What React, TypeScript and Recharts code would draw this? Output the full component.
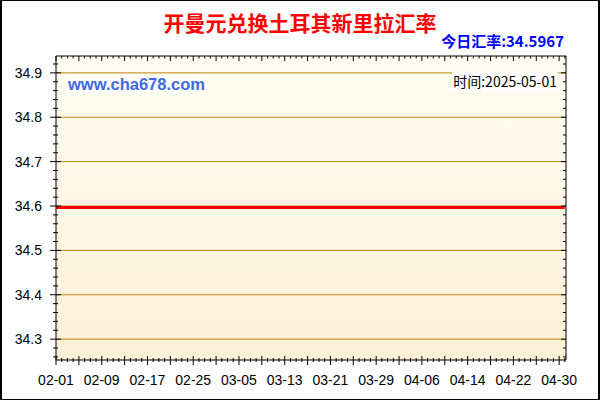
import { LineChart, Line, XAxis, YAxis, CartesianGrid, ReferenceLine } from 'recharts';

const title = '开曼元兑换土耳其新里拉汇率';
const todayLabel = '今日汇率:34.5967';
const timeLabel = '时间:2025-05-01';
const siteLabel = 'www.cha678.com';

// month-day of each sample, 2025
const dates = ['02-01', '02-09', '02-17', '02-25', '03-05', '03-13', '03-21', '03-29', '04-06', '04-14', '04-22', '04-30', '05-01'];
const rates = [34.5967, 34.5967, 34.5967, 34.5967, 34.5967, 34.5967, 34.5967, 34.5967, 34.5967, 34.5967, 34.5967, 34.5967, 34.5967];

const xTickLabels = ['02-01', '02-09', '02-17', '02-25', '03-05', '03-13', '03-21', '03-29', '04-06', '04-14', '04-22', '04-30'];
const yTickLabels = ['34.3', '34.4', '34.5', '34.6', '34.7', '34.8', '34.9'];

const dayIndex = (md: string) => {
  const [m, d] = md.split('-').map(Number);
  return Math.round((Date.UTC(2025, m - 1, d) - Date.UTC(2025, 1, 1)) / 86400000);
};

const data = dates.map((d, i) => ({ day: dayIndex(d), rate: rates[i] }));

const X_DOMAIN: [number, number] = [0, 89.2];
const Y_DOMAIN: [number, number] = [34.253, 34.938];

const dayTicks: number[] = [];
for (let i = 0; i <= 89; i++) dayTicks.push(i);
const rateTicks: number[] = [];
for (let k = 0; k <= 33; k++) rateTicks.push(Math.round((34.26 + k * 0.02) * 100) / 100);
const majorRates = yTickLabels.map(Number);

const AXIS_FONT = '"Liberation Sans", Arial, sans-serif';
const CJK_FONT = '"Noto Sans CJK SC", "Liberation Sans", sans-serif';

const BottomTick = (props: any) => {
  const { x, y, payload } = props;
  const v = payload.value;
  const major = v % 4 === 0;
  const labeled = v % 8 === 0;
  return (
    <g>
      <line x1={x} x2={x} y1={major ? y - 4 : y - 2} y2={major ? y + 5 : y + 2} stroke="#000" />
      {labeled && (
        <text x={x} y={y + 25} textAnchor="middle" fontSize={14} fontFamily={AXIS_FONT} fill="#000">
          {xTickLabels[v / 8]}
        </text>
      )}
    </g>
  );
};

const TopTick = (props: any) => {
  const { x, y, payload } = props;
  const major = payload.value % 4 === 0;
  return <line x1={x} x2={x} y1={y} y2={y + (major ? 5 : 2.5)} stroke="#000" />;
};

const LeftTick = (props: any) => {
  const { x, y, payload } = props;
  const v = payload.value;
  const idx = majorRates.indexOf(v);
  const major = idx >= 0;
  return (
    <g>
      <line x1={major ? x - 6 : x - 3} x2={major ? x + 5 : x + 2} y1={y} y2={y} stroke="#000" />
      {major && (
        <text x={x - 14} y={y + 5} textAnchor="end" fontSize={14} fontFamily={AXIS_FONT} fill="#000">
          {yTickLabels[idx]}
        </text>
      )}
    </g>
  );
};

const RightTick = (props: any) => {
  const { x, y, payload } = props;
  const major = majorRates.indexOf(payload.value) >= 0;
  return <line x1={x - (major ? 5 : 3)} x2={x} y1={y} y2={y} stroke="#000" />;
};

export default function App() {
  return (
    <div style={{ position: 'absolute', left: 0, top: 0, width: 600, height: 400, background: '#fff' }}>
      <LineChart width={600} height={400} data={data} margin={{ top: 55, right: 33, bottom: 0, left: 0 }}>
        <defs>
          <linearGradient id="plotBg" x1="0" y1="0" x2="0" y2="1">
            <stop offset="0%" stopColor="#fffef2" />
            <stop offset="100%" stopColor="#fdf0d8" />
          </linearGradient>
        </defs>
        <CartesianGrid horizontal={false} vertical={false} fill="url(#plotBg)" />
        <XAxis
          dataKey="day"
          type="number"
          domain={X_DOMAIN}
          allowDataOverflow
          ticks={dayTicks}
          interval={0}
          height={40}
          tickSize={0}
          tickMargin={0}
          tick={<BottomTick />}
          axisLine={{ stroke: '#000' }}
        />
        <XAxis
          xAxisId="top"
          orientation="top"
          dataKey="day"
          type="number"
          domain={X_DOMAIN}
          allowDataOverflow
          ticks={dayTicks}
          interval={0}
          height={1}
          tickSize={0}
          tickMargin={0}
          tick={<TopTick />}
          axisLine={{ stroke: '#000' }}
        />
        <YAxis
          type="number"
          domain={Y_DOMAIN}
          allowDataOverflow
          ticks={rateTicks}
          interval={0}
          width={56}
          tickSize={0}
          tickMargin={0}
          tick={<LeftTick />}
          axisLine={{ stroke: '#000' }}
        />
        <YAxis
          yAxisId="right"
          orientation="right"
          type="number"
          domain={Y_DOMAIN}
          allowDataOverflow
          ticks={rateTicks}
          interval={0}
          width={1}
          tickSize={0}
          tickMargin={0}
          tick={<RightTick />}
          axisLine={{ stroke: '#000' }}
        />
        {majorRates.map((v) => (
          <ReferenceLine key={v} y={v} stroke="#b8860b" strokeWidth={1} />
        ))}
        {/* invisible twin so the top and right frame axes get drawn */}
        <Line
          xAxisId="top"
          yAxisId="right"
          type="linear"
          dataKey="rate"
          stroke="none"
          dot={false}
          activeDot={false}
          legendType="none"
          isAnimationActive={false}
        />
        <Line
          type="linear"
          dataKey="rate"
          stroke="#ff0000"
          strokeWidth={3}
          dot={false}
          activeDot={false}
          isAnimationActive={false}
        />
      </LineChart>
      <svg width={600} height={400} style={{ position: 'absolute', left: 0, top: 0, pointerEvents: 'none' }}>
        <text x={300} y={31} textAnchor="middle" fontSize={21} fontWeight="bold" fontFamily={CJK_FONT} fill="#ff0000">
          {title}
        </text>
        <text x={564} y={47} textAnchor="end" fontSize={15} fontWeight="bold" fontFamily={CJK_FONT} fill="#0000ff">
          {todayLabel}
        </text>
        <rect x={66} y={76} width={140} height={17} fill="#ffffff" opacity={0.7} />
        <text x={68} y={90} fontSize={16.5} fontWeight="bold" fontFamily={AXIS_FONT} fill="#4169e1">
          {siteLabel}
        </text>
        <rect x={452} y={72} width={106} height={19} fill="#ffffff" />
        <text x={557} y={87} textAnchor="end" fontSize={14} fontFamily={CJK_FONT} fill="#000">
          {timeLabel}
        </text>
      </svg>
      <div
        style={{
          position: 'absolute',
          left: 0,
          top: 0,
          width: 600,
          height: 400,
          boxSizing: 'border-box',
          border: '1px solid #000',
          borderLeftWidth: 2,
          borderRightWidth: 2,
          pointerEvents: 'none',
        }}
      />
    </div>
  );
}
